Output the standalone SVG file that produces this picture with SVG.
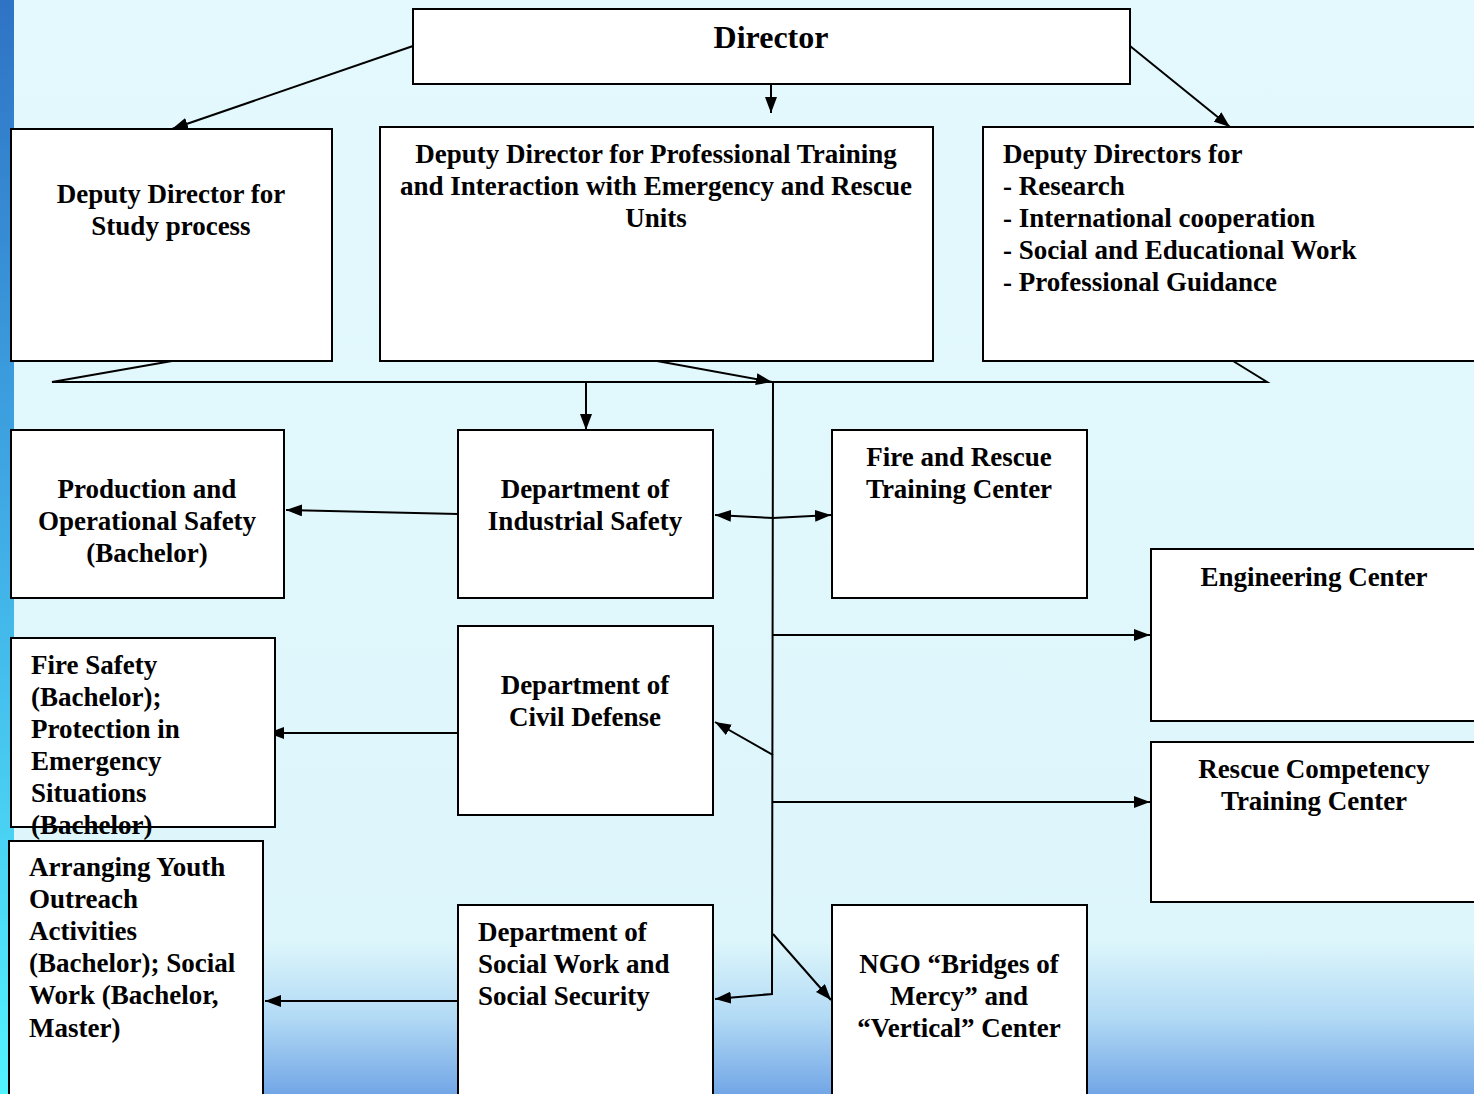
<svg xmlns="http://www.w3.org/2000/svg" width="1474" height="1094" viewBox="0 0 1474 1094" font-family="'Liberation Serif','Times New Roman','DejaVu Serif',serif">
<defs>
<linearGradient id="bg" x1="0" y1="0" x2="0" y2="1">
<stop offset="0" stop-color="#E4F9FD"/>
<stop offset="0.86" stop-color="#DDF6FB"/>
<stop offset="0.93" stop-color="#B2DAF5"/>
<stop offset="1" stop-color="#72A6E6"/>
</linearGradient>
<linearGradient id="strip" x1="0" y1="0" x2="0" y2="1">
<stop offset="0" stop-color="#2F73C4"/>
<stop offset="0.45" stop-color="#3FA8E4"/>
<stop offset="1" stop-color="#52F2FF"/>
</linearGradient>
<marker id="ah" viewBox="0 0 16 12" refX="16" refY="6" markerWidth="16" markerHeight="12" markerUnits="userSpaceOnUse" orient="auto">
<path d="M0,0 L16,6 L0,12 z" fill="#000"/>
</marker>
<marker id="ahs" viewBox="0 0 16 12" refX="0" refY="6" markerWidth="16" markerHeight="12" markerUnits="userSpaceOnUse" orient="auto">
<path d="M16,0 L0,6 L16,12 z" fill="#000"/>
</marker>
</defs>
<style>
.box{fill:#fff;stroke:#000;stroke-width:2}
.edge{fill:none;stroke:#000;stroke-width:2}
.t{font-family:'Liberation Serif','Times New Roman','DejaVu Serif',serif;font-weight:bold;font-size:27px;fill:#000}
.c{text-anchor:middle}
.ln{fill:none;stroke:#000;stroke-width:2}
.ar{fill:none;stroke:#000;stroke-width:2;marker-end:url(#ah)}
</style>
<rect x="0" y="0" width="1474" height="1094" fill="url(#bg)"/>
<rect x="0" y="0" width="14" height="1094" fill="url(#strip)"/>

<g id="connectors">
<line class="ar" x1="413" y1="46" x2="172" y2="129"/>
<line class="ar" x1="771" y1="84" x2="771" y2="113"/>
<line class="ar" x1="1130" y1="46" x2="1230" y2="127"/>
<polyline class="ln" points="172,361 52,382 1267,382 1233,361"/>
<line class="ar" x1="657" y1="361" x2="772" y2="382"/>
<line class="ar" x1="586" y1="382" x2="586" y2="430"/>
<polyline class="ar" points="773,382 772,994 715,999"/>
<polyline class="ln" points="715,515 773,518 831,515" style="marker-start:url(#ahs);marker-end:url(#ah)"/>
<line class="ar" x1="773" y1="635" x2="1150" y2="635"/>
<line class="ar" x1="773" y1="755" x2="715" y2="722"/>
<line class="ar" x1="773" y1="802" x2="1150" y2="802"/>
<line class="ar" x1="773" y1="934" x2="831" y2="1000"/>
<line class="ar" x1="458" y1="514" x2="286" y2="510"/>
<line class="ar" x1="458" y1="733" x2="268" y2="733"/>
<line class="ar" x1="458" y1="1001" x2="265" y2="1001"/>
</g>

<g id="director">
<rect class="box" x="413" y="9" width="717" height="75"/>
<text class="t c" x="771" y="48" style="font-size:32px">Director</text>
</g>
<g id="dd-study">
<rect class="box" x="11" y="129" width="321" height="232"/>
<text class="t c" x="171" y="203">Deputy Director for</text>
<text class="t c" x="171" y="235">Study process</text>
</g>
<g id="dd-training">
<rect class="box" x="380" y="127" width="553" height="234"/>
<text class="t c" x="656" y="163">Deputy Director for Professional Training</text>
<text class="t c" x="656" y="195">and Interaction with Emergency and Rescue</text>
<text class="t c" x="656" y="227">Units</text>
</g>
<g id="dd-research">
<rect class="box" x="983" y="127" width="500" height="234"/>
<text class="t" x="1003" y="163">Deputy Directors for</text>
<text class="t" x="1003" y="195">- Research</text>
<text class="t" x="1003" y="227">- International cooperation</text>
<text class="t" x="1003" y="259">- Social and Educational Work</text>
<text class="t" x="1003" y="291">- Professional Guidance</text>
</g>
<g id="production">
<rect class="box" x="11" y="430" width="273" height="168"/>
<text class="t c" x="147" y="498">Production and</text>
<text class="t c" x="147" y="530">Operational Safety</text>
<text class="t c" x="147" y="562">(Bachelor)</text>
</g>
<g id="dept-industrial">
<rect class="box" x="458" y="430" width="255" height="168"/>
<text class="t c" x="585" y="498">Department of</text>
<text class="t c" x="585" y="530">Industrial Safety</text>
</g>
<g id="fire-rescue">
<rect class="box" x="832" y="430" width="255" height="168"/>
<text class="t c" x="959" y="466">Fire and Rescue</text>
<text class="t c" x="959" y="498">Training Center</text>
</g>
<g id="engineering">
<rect class="box" x="1151" y="549" width="330" height="172"/>
<text class="t c" x="1314" y="586">Engineering Center</text>
</g>
<g id="fire-safety">
<rect class="box" x="11" y="638" width="264" height="189"/>
<text class="t" x="31" y="674">Fire Safety</text>
<text class="t" x="31" y="706">(Bachelor);</text>
<text class="t" x="31" y="738">Protection in</text>
<text class="t" x="31" y="770">Emergency</text>
<text class="t" x="31" y="802">Situations</text>
<text class="t" x="31" y="834">(Bachelor)</text>
<rect class="edge" x="11" y="638" width="264" height="189"/>
</g>
<g id="dept-civil">
<rect class="box" x="458" y="626" width="255" height="189"/>
<text class="t c" x="585" y="694">Department of</text>
<text class="t c" x="585" y="726">Civil Defense</text>
</g>
<g id="rescue-competency">
<rect class="box" x="1151" y="742" width="330" height="160"/>
<text class="t c" x="1314" y="778">Rescue Competency</text>
<text class="t c" x="1314" y="810">Training Center</text>
</g>
<g id="youth">
<rect class="box" x="9" y="841" width="254" height="260"/>
<text class="t" x="29" y="876">Arranging Youth</text>
<text class="t" x="29" y="908">Outreach</text>
<text class="t" x="29" y="940">Activities</text>
<text class="t" x="29" y="972">(Bachelor); Social</text>
<text class="t" x="29" y="1004">Work (Bachelor,</text>
<text class="t" x="29" y="1037">Master)</text>
</g>
<g id="dept-social">
<rect class="box" x="458" y="905" width="255" height="200"/>
<text class="t" x="478" y="941">Department of</text>
<text class="t" x="478" y="973">Social Work and</text>
<text class="t" x="478" y="1005">Social Security</text>
</g>
<g id="ngo">
<rect class="box" x="832" y="905" width="255" height="200"/>
<text class="t c" x="959" y="973">NGO “Bridges of</text>
<text class="t c" x="959" y="1005">Mercy” and</text>
<text class="t c" x="959" y="1037">“Vertical” Center</text>
</g>
</svg>
